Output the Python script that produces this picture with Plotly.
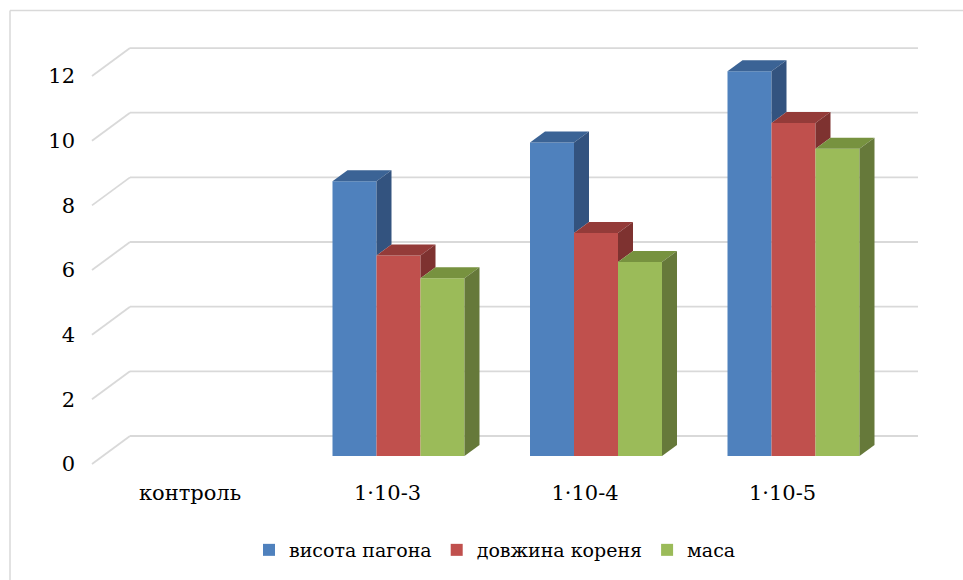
import plotly.graph_objects as go

# ---- data -------------------------------------------------------------
categories = ["контроль", "1·10-3", "1·10-4", "1·10-5"]
series_names = ["висота пагона", "довжина кореня", "маса"]
shoot_height = [0, 8.5, 9.7, 11.9]
root_length = [0, 6.2, 6.9, 10.3]
mass = [0, 5.5, 6.0, 9.5]
y_ticks = [0, 2, 4, 6, 8, 10, 12]

series_values = [shoot_height, root_length, mass]
front_colors = ["#4F81BD", "#C0504D", "#9BBB59"]
top_colors = ["#3B6395", "#943B39", "#77923F"]
side_colors = ["#33537F", "#7E3230", "#66793A"]

# ---- geometry of the pseudo-3D box (pixels) ----------------------------
W, H = 963, 580
PLOT_L, PLOT_T, PLOT_B = 76, 0, 478          # plot area in the page
CAT0_PX, CAT_STEP_PX = 190, 197.5            # front-plane x of first category, spacing
ZERO_PX, UNIT_PX = 464, 32.33                # front-plane y of 0, pixels per unit
WALL_DX, WALL_DY = 38, 28                    # depth of the back wall
BAR_DX, BAR_DY = 11, 8                       # front face of bars sits inside the box
BAR_W_PX, BAR_DEPTH_DX, BAR_DEPTH_DY = 44, 15, 11
WALL_LEFT_PX, WALL_RIGHT_PX = 92, 918


def xu(px):
    return px / CAT_STEP_PX


def yu(px):
    return px / UNIT_PX


x_range = [(PLOT_L - CAT0_PX) / CAT_STEP_PX, (W - CAT0_PX) / CAT_STEP_PX]
y_range = [(ZERO_PX - PLOT_B) / UNIT_PX, (ZERO_PX - PLOT_T) / UNIT_PX]


def paper_x(px):
    return (px - PLOT_L) / (W - PLOT_L)


def paper_y(px):
    return (PLOT_B - px) / (PLOT_B - PLOT_T)


fig = go.Figure()

base = yu(BAR_DY)
bw = xu(BAR_W_PX)
ddx, ddy = xu(BAR_DEPTH_DX), yu(BAR_DEPTH_DY)
n_series = len(series_values)
group_left = xu(BAR_DX) - bw * n_series / 2

# front faces of the bars
for k, (name, vals) in enumerate(zip(series_names, series_values)):
    fig.add_trace(go.Bar(
        name=name,
        x=list(range(len(categories))),
        y=vals,
        base=base,
        width=bw,
        offset=group_left + k * bw,
        marker=dict(color=front_colors[k], line=dict(width=0)),
        customdata=categories,
        hovertemplate="%{customdata}<br>" + name + ": %{y}<extra></extra>",
    ))

# top and side faces
for i in range(len(categories)):
    for k in range(n_series):
        v = series_values[k][i]
        if v <= 0:
            continue
        xl = i + group_left + k * bw
        xr = xl + bw
        top = base + v
        fig.add_trace(go.Scatter(
            x=[xl, xr, xr + ddx, xl + ddx, xl],
            y=[top, top, top + ddy, top + ddy, top],
            mode="lines", fill="toself", fillcolor=top_colors[k],
            line=dict(width=0), hoverinfo="skip", showlegend=False,
        ))
        if k < n_series - 1:
            lower = base + series_values[k + 1][i]
            if lower >= top:
                continue
        else:
            lower = base
        fig.add_trace(go.Scatter(
            x=[xr, xr, xr + ddx, xr + ddx, xr],
            y=[lower, top, top + ddy, lower + ddy, lower],
            mode="lines", fill="toself", fillcolor=side_colors[k],
            line=dict(width=0), hoverinfo="skip", showlegend=False,
        ))

# back-wall gridlines with their slanted left ends
grid = dict(color="#D9D9D9", width=1.8)
x_front_left = (WALL_LEFT_PX - CAT0_PX) / CAT_STEP_PX
x_back_left = x_front_left + xu(WALL_DX)
x_back_right = (WALL_RIGHT_PX - CAT0_PX) / CAT_STEP_PX
shapes = []
for t in y_ticks:
    yb = t + yu(WALL_DY)
    shapes.append(dict(type="line", xref="x", yref="y", layer="below",
                       x0=x_front_left, y0=t, x1=x_back_left, y1=yb, line=grid))
    shapes.append(dict(type="line", xref="x", yref="y", layer="below",
                       x0=x_back_left, y0=yb, x1=x_back_right, y1=yb, line=grid))

# chart frame
frame = dict(color="#D9D9D9", width=1.5)
shapes.append(dict(type="line", xref="paper", yref="paper",
                   x0=paper_x(10), y0=paper_y(10.5), x1=paper_x(W + 5), y1=paper_y(10.5), line=frame))
shapes.append(dict(type="line", xref="paper", yref="paper",
                   x0=paper_x(10), y0=paper_y(10.5), x1=paper_x(10), y1=paper_y(H + 5), line=frame))

serif = dict(family="DejaVu Serif", size=21, color="black")
legend_font = dict(family="DejaVu Serif", size=19, color="black")
fig.update_layout(
    width=W, height=H,
    margin=dict(l=PLOT_L, r=0, t=PLOT_T, b=H - PLOT_B, autoexpand=False),
    paper_bgcolor="white", plot_bgcolor="white",
    font=serif,
    barmode="overlay",
    shapes=shapes,
    showlegend=True,
    legend=dict(orientation="h", x=paper_x(495), xanchor="center",
                y=paper_y(550), yanchor="middle", font=legend_font,
                itemwidth=30, bgcolor="rgba(0,0,0,0)"),
    xaxis=dict(range=x_range, tickvals=list(range(len(categories))), ticktext=categories,
               tickfont=serif, showgrid=False, zeroline=False, showline=False, ticks="",
               fixedrange=True),
    yaxis=dict(range=y_range, tickvals=y_ticks, tickfont=serif, showgrid=False,
               zeroline=False, showline=False, ticks="", fixedrange=True),
)

fig.write_html("out.html")
